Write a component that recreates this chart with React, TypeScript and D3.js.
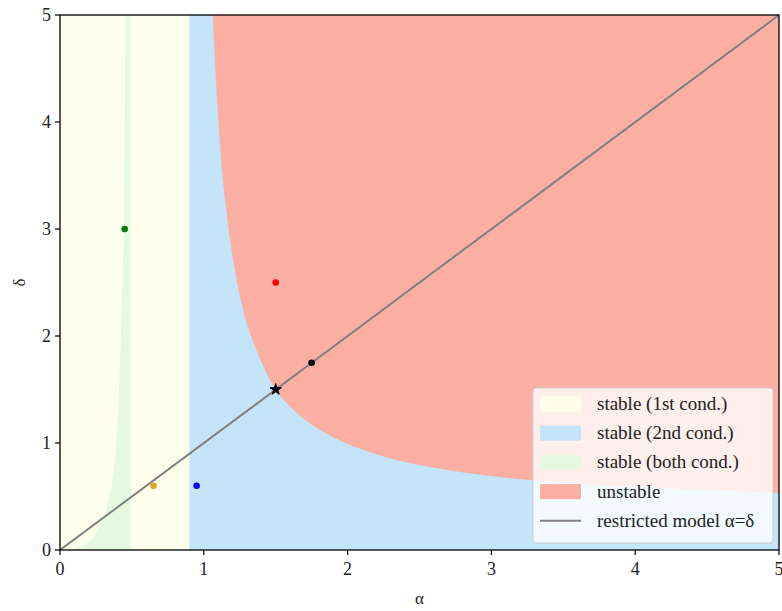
import React from "react";
import * as d3 from "d3";

const xTicks = [0, 1, 2, 3, 4, 5];
const yTicks = [0, 1, 2, 3, 4, 5];

// stable (1st cond.) band: alpha range
const firstCondRange = [0, 0.9];
// stable (both cond.) region: left boundary curve [alpha, delta], right edge alpha
const bothLeftCurve: [number, number][] = [
  [0.05, 0], [0.1, 0.01], [0.15, 0.035], [0.2, 0.075], [0.25, 0.15], [0.3, 0.29],
  [0.34, 0.47], [0.37, 0.7], [0.39, 0.97], [0.41, 1.5], [0.43, 2.3], [0.447, 3.3], [0.455, 5],
];
const bothRightEdge = 0.49;
// unstable region boundary [alpha, delta]
const unstableBoundary: [number, number][] = [
  [1.063, 5.0], [1.08, 4.5], [1.1, 4.03], [1.13, 3.5], [1.16, 3.13], [1.2, 2.74],
  [1.25, 2.38], [1.3, 2.11], [1.4, 1.76], [1.5, 1.5], [1.6, 1.34], [1.75, 1.17],
  [2.0, 0.99], [2.25, 0.875], [2.5, 0.795], [3.0, 0.69], [3.5, 0.63], [4.0, 0.59],
  [4.5, 0.56], [5.0, 0.535],
];
const dots = [
  { a: 0.45, d: 3.0, color: "#008000" },
  { a: 0.65, d: 0.6, color: "#e3a02a" },
  { a: 0.95, d: 0.6, color: "#0000ff" },
  { a: 1.5, d: 2.5, color: "#ff0000" },
  { a: 1.75, d: 1.75, color: "#000000" },
];
const starPoint = { a: 1.5, d: 1.5 };
const legendItems = [
  { label: "stable (1st cond.)", color: "#fffeeb", kind: "patch" },
  { label: "stable (2nd cond.)", color: "#c4e4f9", kind: "patch" },
  { label: "stable (both cond.)", color: "#e6f8df", kind: "patch" },
  { label: "unstable", color: "#fbafa2", kind: "patch" },
  { label: "restricted model α=δ", color: "#808080", kind: "line" },
];

const C_YELLOW = "#fefeec";
const C_BLUE = "#c4e4f9";
const C_GREEN = "#e6f9e0";
const C_RED = "#fbafa3";

export default function App() {
  const W = 782, H = 611;
  const L = 60, R = 779, T = 15, B = 550;
  const x = d3.scaleLinear().domain([0, 5]).range([L, R]);
  const y = d3.scaleLinear().domain([0, 5]).range([B, T]);
  const font = "'Liberation Serif', 'DejaVu Serif', serif";

  const curveLine = d3.line<[number, number]>().curve(d3.curveCatmullRom);

  const greenPath =
    curveLine(bothLeftCurve.map(([a, d]) => [x(a), y(d)] as [number, number])) +
    `L${x(bothRightEdge)},${y(5)}L${x(bothRightEdge)},${y(0)}Z`;
  const redPath =
    curveLine(unstableBoundary.map(([a, d]) => [x(a), y(d)] as [number, number])) +
    `L${x(5)},${y(5)}Z`;

  const star = d3.symbol().type(d3.symbolStar).size(40)();

  const lgX = 533, lgY = 388, lgW = 240, lgH = 155;
  const rowY = (i: number) => 404 + i * 29.2;

  return (
    <svg width={W} height={H} style={{ position: "absolute", left: 0, top: 0 }}>
      <defs>
        <clipPath id="plot">
          <rect x={L} y={T} width={R - L} height={B - T} />
        </clipPath>
      </defs>
      <rect x={0} y={0} width={W} height={H} fill="#fff" />
      <g clipPath="url(#plot)">
        <rect x={x(firstCondRange[0])} y={T} width={x(firstCondRange[1]) - x(firstCondRange[0])} height={B - T} fill={C_YELLOW} />
        <rect x={x(firstCondRange[1])} y={T} width={R - x(firstCondRange[1])} height={B - T} fill={C_BLUE} />
        <path d={greenPath} fill={C_GREEN} />
        <path d={redPath} fill={C_RED} />
        <line x1={x(0)} y1={y(0)} x2={x(5)} y2={y(5)} stroke="#808080" strokeWidth={2} />
        {dots.map((p, i) => (
          <circle key={i} cx={x(p.a)} cy={y(p.d)} r={3.3} fill={p.color} />
        ))}
        <path d={star!} transform={`translate(${x(starPoint.a)},${y(starPoint.d)})`} fill="#000" stroke="#000" strokeWidth={1} />
      </g>
      {/* spines */}
      <rect x={L} y={T} width={R - L} height={B - T} fill="none" stroke="#000" strokeWidth={1.3} />
      {xTicks.map((t) => (
        <g key={"x" + t}>
          <line x1={x(t)} x2={x(t)} y1={B} y2={B + 5} stroke="#000" strokeWidth={1.2} />
          <text x={x(t)} y={B + 25} textAnchor="middle" fontFamily={font} fontSize={18} fill="#222">{t}</text>
        </g>
      ))}
      {yTicks.map((t) => (
        <g key={"y" + t}>
          <line x1={L - 5} x2={L} y1={y(t)} y2={y(t)} stroke="#000" strokeWidth={1.2} />
          <text x={L - 9} y={y(t) + 6} textAnchor="end" fontFamily={font} fontSize={18} fill="#222">{t}</text>
        </g>
      ))}
      <text x={(L + R) / 2} y={604} textAnchor="middle" fontFamily={font} fontSize={17} fill="#222">α</text>
      <text transform={`translate(25,${(T + B) / 2}) rotate(-90)`} textAnchor="middle" fontFamily={font} fontSize={17} fill="#222">δ</text>
      {/* legend */}
      <rect x={lgX} y={lgY} width={lgW} height={lgH} rx={3} fill="#fff" fillOpacity={0.8} stroke="#ccc" strokeWidth={1} />
      {legendItems.map((it, i) => (
        <g key={it.label}>
          {it.kind === "patch" ? (
            <rect x={540} y={rowY(i) - 7.5} width={41} height={15} fill={it.color} />
          ) : (
            <line x1={540} x2={581} y1={rowY(i)} y2={rowY(i)} stroke={it.color} strokeWidth={2} />
          )}
          <text x={597} y={rowY(i) + 6} fontFamily={font} fontSize={19} fill="#222">{it.label}</text>
        </g>
      ))}
    </svg>
  );
}
